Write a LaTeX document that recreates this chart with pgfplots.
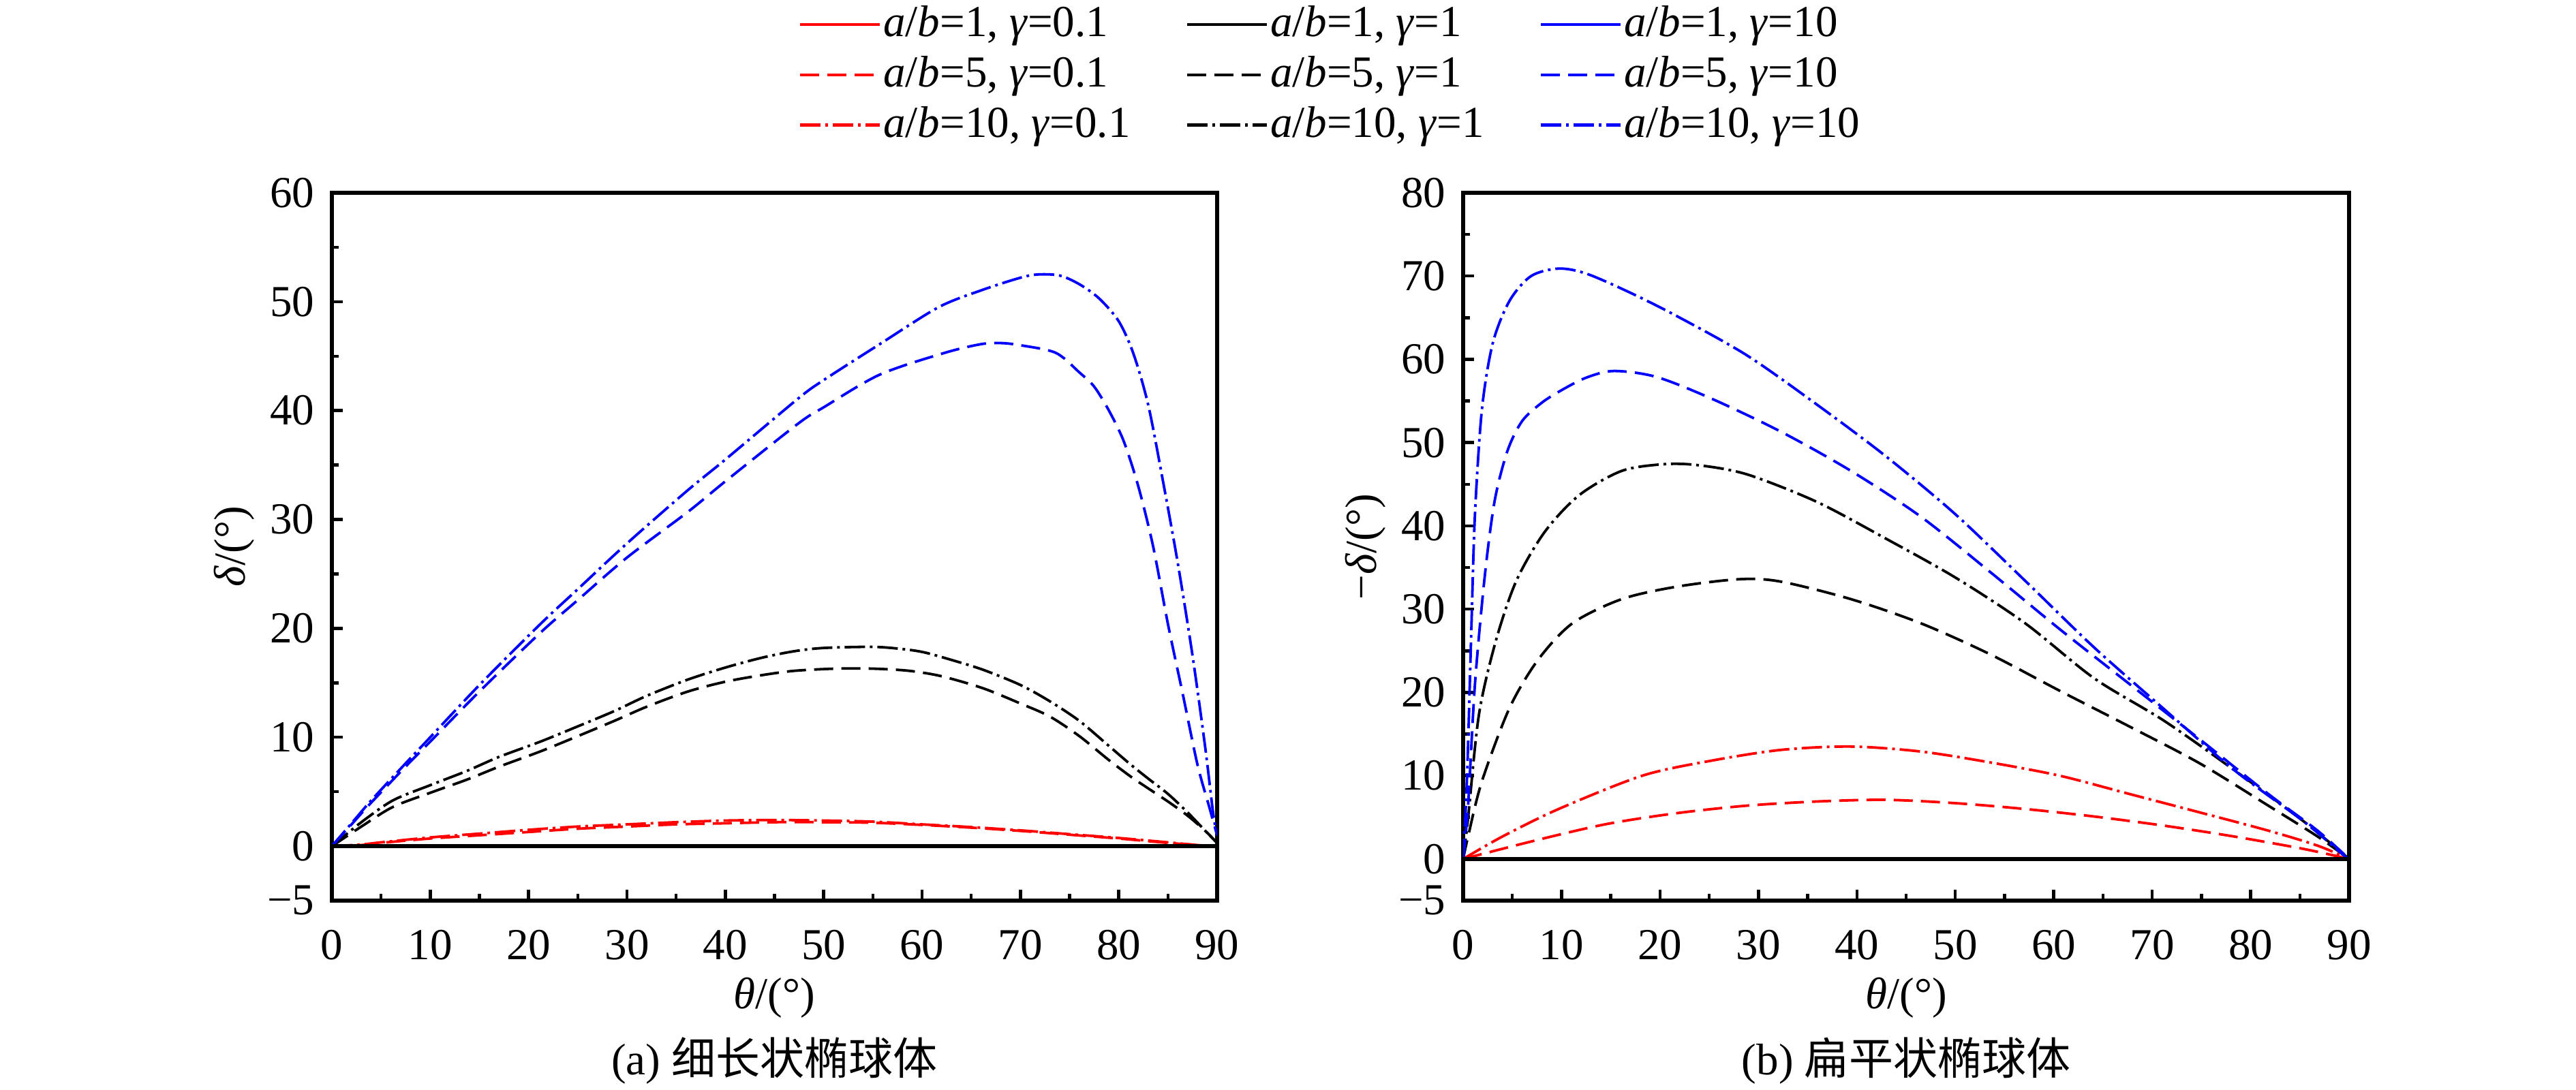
\documentclass[border=0pt]{standalone}
\usepackage{pgfplots}
\pgfplotsset{compat=1.18}
\usepackage{fontspec}
\setmainfont{Liberation Serif}
\newfontfamily\cjk{Noto Sans CJK SC}

\definecolor{cred}{RGB}{255,0,0}
\definecolor{cblue}{RGB}{0,0,255}

\tikzset{
  sdash/.style={dash pattern=on 0.28cm off 0.12cm},
  sdashdot/.style={dash pattern=on 0.30cm off 0.07cm on 0.04cm off 0.07cm},
  cv/.style={line width=0.038cm},
}

\pgfplotsset{
  myax/.style={
    scale only axis,
    width=12.99cm, height=10.39cm,
    anchor=south west,
    xmin=0, xmax=90,
    xtick={0,10,...,90},
    xticklabels={0,10,20,30,40,50,60,70,80,90},
    minor xtick={5,15,...,85},
    tick align=inside,
    tick pos=left,
    major tick length=0.16cm,
    minor tick length=0.10cm,
    every tick/.style={black, line width=0.045cm},
    axis line style={line width=0.058cm},
    every outer x axis line/.append style={line width=0.058cm},
    every outer y axis line/.append style={line width=0.058cm},
    xticklabel style={inner sep=0pt, anchor=north, yshift=-0.43cm},
    yticklabel style={inner sep=0pt, anchor=east, xshift=-0.25cm},
    xlabel={\textit{θ}/(°)},
    xlabel style={at={(axis description cs:0.5,-0.1376)}, anchor=center, inner sep=0pt},
    ylabel style={at={(axis description cs:-0.11,0.5)}, anchor=center, inner sep=0pt, rotate=0},
    clip=true,
  },
}

\begin{document}
\fontsize{18.5}{22}\selectfont
\begin{tikzpicture}
\path[use as bounding box] (0,0) rectangle (37.8,16);

% ---------------- left panel ----------------
\begin{axis}[myax,
  at={(4.87cm,2.78cm)},
  ymin=-5, ymax=60,
  ytick={-5,0,10,20,30,40,50,60},
  yticklabels={−5,0,10,20,30,40,50,60},
  minor ytick={5,15,25,35,45,55},
  ylabel={\textit{δ}/(°)},
  legend columns=3,
  legend cell align=left,
  legend image code/.code={\draw[#1, line width=0.045cm] (0cm,0cm) -- (1.17cm,0cm);},
  legend style={at={(axis description cs:0.5266,1.274)}, anchor=north west,
    draw=none, fill=none, inner sep=0pt,
    nodes={inner xsep=0.03cm, inner ysep=0.095cm},
    /tikz/every even column/.append style={column sep=0.78cm}},
]
\addlegendimage{cred}
\addlegendentry{\textit{a}/\textit{b}=1, \textit{γ}=0.1}
\addlegendimage{black}
\addlegendentry{\textit{a}/\textit{b}=1, \textit{γ}=1}
\addlegendimage{cblue}
\addlegendentry{\textit{a}/\textit{b}=1, \textit{γ}=10}
\addlegendimage{cred, sdash}
\addlegendentry{\textit{a}/\textit{b}=5, \textit{γ}=0.1}
\addlegendimage{black, sdash}
\addlegendentry{\textit{a}/\textit{b}=5, \textit{γ}=1}
\addlegendimage{cblue, sdash}
\addlegendentry{\textit{a}/\textit{b}=5, \textit{γ}=10}
\addlegendimage{cred, sdashdot}
\addlegendentry{\textit{a}/\textit{b}=10, \textit{γ}=0.1}
\addlegendimage{black, sdashdot}
\addlegendentry{\textit{a}/\textit{b}=10, \textit{γ}=1}
\addlegendimage{cblue, sdashdot}
\addlegendentry{\textit{a}/\textit{b}=10, \textit{γ}=10}

% red dashed (a/b=5, gamma=0.1)
\addplot[cred, cv, sdash, smooth, forget plot] coordinates {
(0,0) (3,0.1) (5,0.3) (10,0.7) (15,1.0) (20,1.3) (25,1.6) (30,1.8) (35,2.0) (40,2.1) (45,2.2) (50,2.2) (55,2.15) (60,1.95) (65,1.7) (70,1.4) (75,1.05) (80,0.7) (85,0.3) (88,0.1) (90,0)};
% red dash-dot (a/b=10, gamma=0.1)
\addplot[cred, cv, sdashdot, smooth, forget plot] coordinates {
(0,0) (3,0.15) (5,0.35) (10,0.8) (15,1.15) (20,1.5) (25,1.8) (30,2.0) (35,2.2) (40,2.35) (45,2.4) (50,2.35) (55,2.25) (60,2.0) (65,1.75) (70,1.45) (75,1.1) (80,0.75) (85,0.35) (88,0.1) (90,0)};
% black dashed (a/b=5, gamma=1)
\addplot[black, cv, sdash, smooth, forget plot] coordinates {
(0,0) (3,1.8) (6.2,3.6) (10,4.9) (13.7,6.1) (17,7.3) (21.2,8.7) (25,10.1) (28.7,11.5) (32,12.8) (36.2,14.2) (40,15.1) (43.7,15.7) (47,16.1) (51.2,16.3) (55,16.3) (58.7,16.1) (62,15.6) (66.2,14.5) (70,13.1) (73,11.9) (76,10.1) (79,7.9) (81.2,6.4) (83,5.3) (85,4.1) (87,2.8) (88.8,1.4) (90,0.3)};
% black dash-dot (a/b=10, gamma=1)
\addplot[black, cv, sdashdot, smooth, forget plot] coordinates {
(0,0) (3,2.2) (6.2,4.2) (10,5.6) (13.7,6.9) (17,8.2) (21.2,9.6) (25,11) (28.7,12.4) (32,13.8) (36.2,15.3) (40,16.4) (43.7,17.3) (47,17.9) (50,18.2) (55,18.3) (58,18.1) (60.2,17.8) (63,17.1) (66.2,16.2) (70,14.8) (73,13.3) (76,11.5) (79,9.2) (81.2,7.5) (83,6.2) (85,4.8) (87,3.1) (88.8,1.4) (90,0.3)};
% blue dashed (a/b=5, gamma=10)
\addplot[cblue, cv, sdash, smooth, forget plot] coordinates {
(0,0) (2,2.0) (4,4.0) (7.7,7.5) (10,9.6) (15,14.2) (21.2,19.6) (25,22.6) (30,26.5) (36.2,30.7) (40,33.5) (47.4,38.8) (50,40.3) (55.7,43.3) (62.3,45.3) (66,46.1) (68,46.2) (70,46.0) (73.6,45.3) (76,43.5) (77.5,42.2) (79,40) (80.5,37.2) (82,33) (83.5,27.5) (85,20.4) (86.5,14) (88,7.5) (89.2,3.6) (90,1)};
% blue dash-dot (a/b=10, gamma=10)
\addplot[cblue, cv, sdashdot, smooth, forget plot] coordinates {
(0,0) (2,2.1) (4,4.2) (7.7,7.8) (10,10.0) (15,14.8) (21.2,20.4) (25,23.6) (30,27.8) (36.2,32.7) (40,35.5) (47.4,41.1) (50,42.8) (55.7,46.1) (61.7,49.5) (66.2,51.1) (70,52.2) (71.8,52.5) (74,52.4) (76,51.6) (78,50.3) (80,48.2) (81.5,45.2) (83,40.5) (84.5,33.5) (86,26) (87.5,17.5) (88.8,9) (89.6,3) (90,1)};
% a/b=1 (zero deflection), all gamma
\addplot[cred, line width=0.055cm, forget plot] coordinates {(0,0) (45,0) (90,0)};
\addplot[cblue, line width=0.055cm, forget plot] coordinates {(0,0) (45,0) (90,0)};
\addplot[black, line width=0.055cm, forget plot] coordinates {(0,0) (45,0) (90,0)};
\end{axis}

% ---------------- right panel ----------------
\begin{axis}[myax,
  at={(21.47cm,2.78cm)},
  width=13.00cm,
  ymin=-5, ymax=80,
  ytick={-5,0,10,20,30,40,50,60,70,80},
  yticklabels={−5,0,10,20,30,40,50,60,70,80},
  minor ytick={5,15,25,35,45,55,65,75},
  ylabel={−\textit{δ}/(°)},
]
% red dashed
\addplot[cred, cv, sdash, smooth] coordinates {
(0,0) (7.6,2.3) (14.6,4.2) (21.7,5.5) (28.8,6.4) (35.9,6.9) (42.9,7.1) (50,6.7) (57.1,6.0) (64.1,5.1) (71.2,4.0) (78.3,2.7) (85.4,1.2) (90,0)};
% red dash-dot
\addplot[cred, cv, sdashdot, smooth] coordinates {
(0,0) (4,2.7) (9.7,6) (18.2,10) (25.2,11.8) (32.3,13.1) (39.4,13.5) (46.5,12.9) (53.5,11.6) (60.6,10) (67.7,7.8) (74.8,5.6) (81.8,3.4) (86.8,1.6) (90,0)};
% black dashed
\addplot[black, cv, sdash, smooth] coordinates {
(0,0) (0.5,2.7) (1.9,9.3) (4.7,18.1) (7.6,23.9) (11.1,28.3) (16.1,31.2) (21.7,32.7) (28.1,33.6) (32.3,33.3) (39.4,31.2) (46.5,28.3) (53.5,24.6) (60.6,20.2) (67.7,15.9) (74.8,11.5) (81.8,6.4) (86.8,2.7) (90,0)};
% black dash-dot
\addplot[black, cv, sdashdot, smooth] coordinates {
(0,0) (0.5,4.9) (1.6,17.3) (3.3,26.1) (5.4,33.4) (8.3,39.3) (11.8,43.7) (16.1,46.6) (20.3,47.4) (23.8,47.3) (28.8,46.2) (35.9,42.9) (42.9,38.5) (50,33.8) (57.1,28.3) (64.1,21.7) (71.2,16.6) (78.3,10.7) (85.4,4.5) (90,0)};
% blue dashed
\addplot[cblue, cv, sdash, smooth] coordinates {
(0,0) (0.5,6.4) (1.2,21) (2.2,34) (3.2,43) (4.5,49) (6,52.6) (8,54.8) (10,56.3) (12.5,57.8) (15.3,58.6) (19.6,57.9) (25.2,55.3) (32.3,51.3) (39.4,46.6) (46.5,41.1) (53.5,34.5) (60.6,27.6) (67.7,21) (74.8,14.4) (81.8,7.8) (86.8,3.4) (90,0)};
% blue dash-dot
\addplot[cblue, cv, sdashdot, smooth] coordinates {
(0,0) (0.3,7) (0.5,13.7) (0.85,28.3) (1.2,41.4) (1.9,53.9) (3,61.9) (4.7,67) (6.9,70) (9.7,70.9) (12.5,70.3) (16.8,68.1) (21.7,65.2) (28.8,60.5) (35.9,54.6) (42.9,48.4) (50,41.4) (57.1,33.4) (64.1,25.4) (71.2,18) (78.3,10.7) (85.4,4.5) (89.6,0.3) (90,0)};
% a/b=1
\addplot[cred, line width=0.055cm] coordinates {(0,0) (45,0) (90,0)};
\addplot[cblue, line width=0.055cm] coordinates {(0,0) (45,0) (90,0)};
\addplot[black, line width=0.055cm] coordinates {(0,0) (45,0) (90,0)};
\end{axis}

\node[anchor=center, inner sep=0pt] at (11.365,0.43) {(a) {\cjk 细长状椭球体}};
\node[anchor=center, inner sep=0pt] at (27.97,0.43) {(b) {\cjk 扁平状椭球体}};
\end{tikzpicture}
\end{document}
